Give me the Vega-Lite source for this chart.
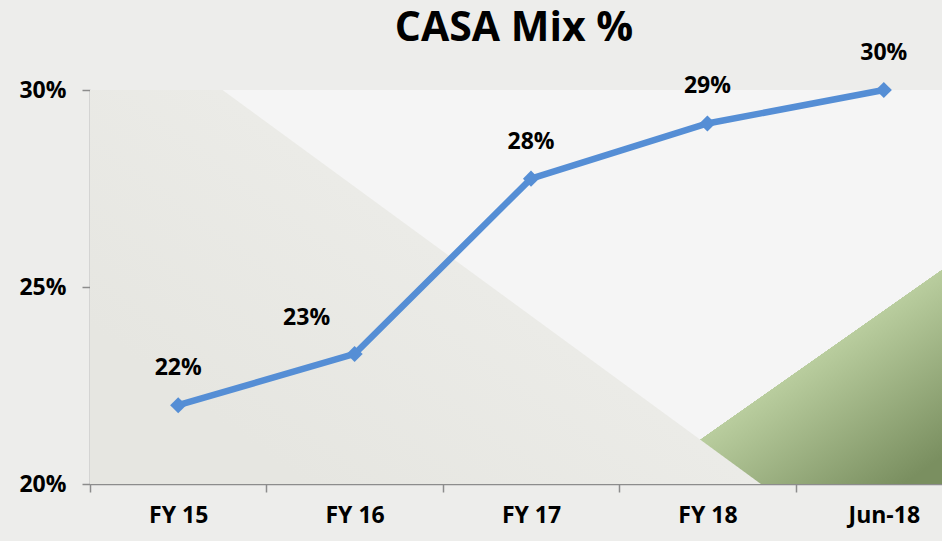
{
  "$schema": "https://vega.github.io/schema/vega-lite/v6.json",
  "autosize": "none",
  "width": 882,
  "height": 394,
  "padding": {"left": 90, "top": 90, "right": 0, "bottom": 57},
  "background": "#ededeb",
  "title": {
    "text": "CASA Mix %",
    "font": "Open Sans",
    "fontSize": 41,
    "fontWeight": "bold",
    "color": "#000000",
    "anchor": "middle",
    "dx": -17,
    "dy": 40,
    "baseline": "alphabetic",
    "offset": 0
  },
  "config": {
    "view": {"stroke": null, "fill": "#f5f5f5"},
    "axis": {
      "labelFont": "Open Sans",
      "labelFontSize": 23,
      "labelFontWeight": "bold",
      "labelColor": "#000000",
      "domainColor": "#8c8c8c",
      "domainWidth": 1.5,
      "tickColor": "#8c8c8c",
      "tickWidth": 1.5,
      "tickSize": 8,
      "grid": false,
      "title": null,
      "zindex": 1
    }
  },
  "data": {
    "values": [
      {"period": "FY 15", "casa": 22.0, "label": "22%"},
      {"period": "FY 16", "casa": 23.3, "label": "23%"},
      {"period": "FY 17", "casa": 27.75, "label": "28%"},
      {"period": "FY 18", "casa": 29.15, "label": "29%"},
      {"period": "Jun-18", "casa": 30.0, "label": "30%"}
    ]
  },
  "layer": [
    {
      "transform": [{"filter": "datum.period == 'FY 17'"}],
      "mark": {
        "type": "rect",
        "width": {"band": 5},
        "fill": {
          "gradient": "linear",
          "x1": 0.476, "y1": 0.751, "x2": 0.907, "y2": 1.025,
          "stops": [
            {"offset": 0, "color": "rgba(185,205,158,0)"},
            {"offset": 0.499, "color": "rgba(185,205,158,0)"},
            {"offset": 0.5, "color": "#b9cd9e"},
            {"offset": 1, "color": "#7a8f60"}
          ]
        }
      },
      "encoding": {
        "x": {"field": "period", "type": "nominal", "sort": null, "scale": {"type": "band", "paddingInner": 0, "paddingOuter": 0, "domain": ["FY 15", "FY 16", "FY 17", "FY 18", "Jun-18"]}, "axis": {"labelAngle": 0, "tickBand": "extent", "labelPadding": 12}},
        "y": {"datum": 20, "type": "quantitative", "scale": {"domain": [20, 30], "nice": false, "zero": false}, "axis": {"values": [20, 25, 30], "format": ".0f", "labelExpr": "datum.value + '%'", "labelPadding": 16}},
        "y2": {"datum": 30}
      }
    },
    {
      "transform": [{"filter": "datum.period == 'FY 17'"}],
      "mark": {
        "type": "rect",
        "width": {"band": 5},
        "fill": {
          "gradient": "linear",
          "x1": 0, "y1": 0.6, "x2": 0.888, "y2": 0.058,
          "stops": [
            {"offset": 0, "color": "#e6e6e1"},
            {"offset": 0.423, "color": "#ebebe7"},
            {"offset": 0.4245, "color": "rgba(235,235,231,0)"},
            {"offset": 1, "color": "rgba(235,235,231,0)"}
          ]
        }
      },
      "encoding": {
        "x": {"field": "period", "type": "nominal", "sort": null},
        "y": {"datum": 20, "type": "quantitative"},
        "y2": {"datum": 30}
      }
    },
    {
      "mark": {"type": "line", "color": "#558ed5", "strokeWidth": 6.5},
      "encoding": {
        "x": {"field": "period", "type": "nominal", "sort": null},
        "y": {"field": "casa", "type": "quantitative"}
      }
    },
    {
      "mark": {"type": "point", "shape": "diamond", "filled": true, "color": "#558ed5", "opacity": 1, "size": 260},
      "encoding": {
        "x": {"field": "period", "type": "nominal", "sort": null},
        "y": {"field": "casa", "type": "quantitative"}
      }
    },
    {
      "transform": [{"filter": "datum.period != 'FY 16'"}],
      "mark": {"type": "text", "font": "Open Sans", "fontSize": 23, "fontWeight": "bold", "color": "#000000", "dy": -37, "baseline": "middle"},
      "encoding": {
        "x": {"field": "period", "type": "nominal", "sort": null},
        "y": {"field": "casa", "type": "quantitative"},
        "text": {"field": "label"}
      }
    },
    {
      "transform": [{"filter": "datum.period == 'FY 16'"}],
      "mark": {"type": "text", "font": "Open Sans", "fontSize": 23, "fontWeight": "bold", "color": "#000000", "dx": -48, "dy": -36, "baseline": "middle"},
      "encoding": {
        "x": {"field": "period", "type": "nominal", "sort": null},
        "y": {"field": "casa", "type": "quantitative"},
        "text": {"field": "label"}
      }
    }
  ]
}
